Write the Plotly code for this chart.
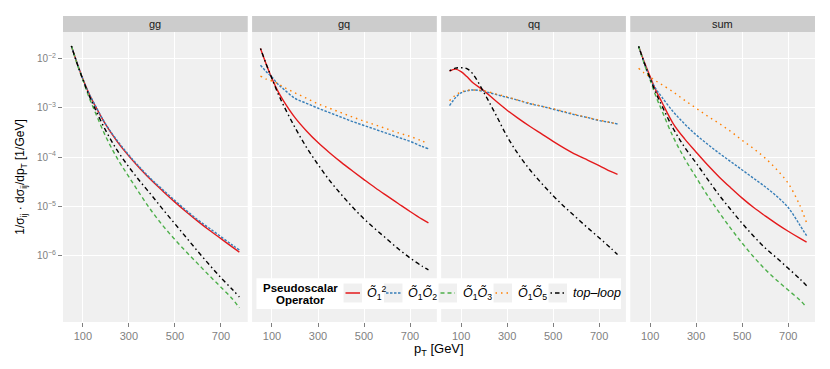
import plotly.graph_objects as go

# ---------------- data ----------------
pt = [50, 75, 100, 125, 150, 200, 250, 300, 350, 400, 450, 500, 550, 600, 650, 700, 750, 780]
channels = ["gg", "gq", "qq", "sum"]
x_tick_vals = [100, 300, 500, 700]
y_tick_vals = [1e-2, 1e-3, 1e-4, 1e-5, 1e-6]
y_tick_text = ["10<sup>\u22122</sup>", "10<sup>\u22123</sup>", "10<sup>\u22124</sup>",
               "10<sup>\u22125</sup>", "10<sup>\u22126</sup>"]

gg_O1sq = [1.78e-2, 7.94e-3, 3.80e-3, 2.00e-3, 1.17e-3, 4.47e-4, 2.04e-4, 1.05e-4, 5.75e-5, 3.31e-5, 2.00e-5, 1.23e-5, 7.76e-6, 5.01e-6, 3.31e-6, 2.24e-6, 1.51e-6, 1.20e-6]
gg_O1O2 = [1.78e-2, 7.94e-3, 3.80e-3, 2.00e-3, 1.20e-3, 4.57e-4, 2.14e-4, 1.10e-4, 6.03e-5, 3.47e-5, 2.14e-5, 1.32e-5, 8.32e-6, 5.37e-6, 3.63e-6, 2.45e-6, 1.66e-6, 1.32e-6]
gg_O1O3 = [1.78e-2, 7.59e-3, 3.63e-3, 1.70e-3, 8.91e-4, 2.57e-4, 9.33e-5, 3.98e-5, 1.74e-5, 7.94e-6, 3.98e-6, 2.14e-6, 1.20e-6, 6.92e-7, 3.98e-7, 2.34e-7, 1.35e-7, 8.91e-8]
gg_top = [1.78e-2, 7.76e-3, 3.72e-3, 1.86e-3, 1.02e-3, 3.39e-4, 1.35e-4, 6.31e-5, 3.16e-5, 1.66e-5, 8.51e-6, 4.47e-6, 2.34e-6, 1.23e-6, 6.61e-7, 3.63e-7, 2.09e-7, 1.48e-7]

gq_O1sq = [1.58e-2, 7.59e-3, 3.89e-3, 2.19e-3, 1.38e-3, 6.31e-4, 3.39e-4, 1.97e-4, 1.23e-4, 7.94e-5, 5.25e-5, 3.51e-5, 2.37e-5, 1.64e-5, 1.14e-5, 7.94e-6, 5.62e-6, 4.68e-6]
gq_O1O2 = [7.24e-3, 5.37e-3, 4.17e-3, 3.02e-3, 2.40e-3, 1.55e-3, 1.23e-3, 9.77e-4, 7.94e-4, 6.46e-4, 5.25e-4, 4.37e-4, 3.63e-4, 3.02e-4, 2.51e-4, 2.09e-4, 1.66e-4, 1.48e-4]
gq_O1O5 = [4.37e-3, 3.80e-3, 3.47e-3, 3.09e-3, 2.63e-3, 2.00e-3, 1.55e-3, 1.20e-3, 9.77e-4, 7.94e-4, 6.46e-4, 5.37e-4, 4.47e-4, 3.72e-4, 3.09e-4, 2.63e-4, 2.14e-4, 1.86e-4]
gq_top = [1.58e-2, 7.59e-3, 3.89e-3, 2.00e-3, 1.12e-3, 3.98e-4, 1.58e-4, 7.08e-5, 3.39e-5, 1.78e-5, 9.77e-6, 5.62e-6, 3.47e-6, 2.19e-6, 1.38e-6, 9.12e-7, 6.31e-7, 5.25e-7]

qq_O1sq = [5.50e-3, 6.03e-3, 5.37e-3, 4.27e-3, 3.24e-3, 2.19e-3, 1.38e-3, 8.91e-4, 6.03e-4, 4.17e-4, 2.95e-4, 2.09e-4, 1.51e-4, 1.12e-4, 8.71e-5, 6.76e-5, 5.13e-5, 4.47e-5]
qq_O1O2 = [1.10e-3, 1.58e-3, 2.00e-3, 2.19e-3, 2.29e-3, 2.14e-3, 1.86e-3, 1.62e-3, 1.41e-3, 1.20e-3, 1.07e-3, 9.33e-4, 8.13e-4, 7.08e-4, 6.31e-4, 5.50e-4, 5.01e-4, 4.68e-4]
qq_O1O5 = [1.38e-3, 1.78e-3, 2.09e-3, 2.24e-3, 2.29e-3, 2.19e-3, 1.91e-3, 1.66e-3, 1.41e-3, 1.23e-3, 1.07e-3, 9.55e-4, 8.32e-4, 7.24e-4, 6.31e-4, 5.62e-4, 5.01e-4, 4.68e-4]
qq_top = [5.62e-3, 6.31e-3, 6.46e-3, 6.17e-3, 4.90e-3, 2.00e-3, 7.41e-4, 2.63e-4, 1.12e-4, 5.50e-5, 2.95e-5, 1.66e-5, 9.77e-6, 6.03e-6, 3.72e-6, 2.34e-6, 1.45e-6, 1.07e-6]

sum_O1sq = [1.74e-2, 8.32e-3, 4.27e-3, 2.24e-3, 1.32e-3, 4.79e-4, 2.34e-4, 1.26e-4, 6.92e-5, 3.98e-5, 2.40e-5, 1.48e-5, 9.55e-6, 6.46e-6, 4.47e-6, 3.16e-6, 2.29e-6, 1.91e-6]
sum_O1O2 = [1.74e-2, 7.94e-3, 3.89e-3, 2.40e-3, 1.66e-3, 8.32e-4, 4.68e-4, 2.82e-4, 1.82e-4, 1.20e-4, 8.13e-5, 5.50e-5, 3.72e-5, 2.51e-5, 1.62e-5, 9.55e-6, 4.27e-6, 2.57e-6]
sum_O1O3 = [1.74e-2, 7.59e-3, 3.63e-3, 1.70e-3, 8.91e-4, 2.57e-4, 9.33e-5, 3.89e-5, 1.66e-5, 7.59e-6, 3.63e-6, 1.82e-6, 9.55e-7, 5.37e-7, 3.24e-7, 2.04e-7, 1.29e-7, 9.12e-8]
sum_O1O5 = [6.31e-3, 5.01e-3, 4.17e-3, 3.47e-3, 2.95e-3, 2.09e-3, 1.41e-3, 9.77e-4, 6.76e-4, 4.79e-4, 3.31e-4, 2.19e-4, 1.48e-4, 9.55e-5, 5.62e-5, 2.95e-5, 1.07e-5, 4.68e-6]
sum_top = [1.74e-2, 7.94e-3, 3.89e-3, 2.00e-3, 1.12e-3, 3.80e-4, 1.58e-4, 7.59e-5, 3.55e-5, 1.70e-5, 8.71e-6, 4.57e-6, 2.51e-6, 1.45e-6, 9.12e-7, 5.62e-7, 3.47e-7, 2.51e-7]

panel_series = {
    "gg": {"O1sq": gg_O1sq, "O1O2": gg_O1O2, "O1O3": gg_O1O3, "top": gg_top},
    "gq": {"O1sq": gq_O1sq, "O1O2": gq_O1O2, "O1O5": gq_O1O5, "top": gq_top},
    "qq": {"O1sq": qq_O1sq, "O1O2": qq_O1O2, "O1O5": qq_O1O5, "top": qq_top},
    "sum": {"O1sq": sum_O1sq, "O1O2": sum_O1O2, "O1O3": sum_O1O3, "O1O5": sum_O1O5, "top": sum_top},
}
series_order = ["O1sq", "O1O2", "O1O3", "O1O5", "top"]
series_labels = {
    "O1sq": "<i>\u00d5</i><sub>1</sub><sup>2</sup>",
    "O1O2": "<i>\u00d5</i><sub>1</sub><i>\u00d5</i><sub>2</sub>",
    "O1O3": "<i>\u00d5</i><sub>1</sub><i>\u00d5</i><sub>3</sub>",
    "O1O5": "<i>\u00d5</i><sub>1</sub><i>\u00d5</i><sub>5</sub>",
    "top": "<i>top\u2013loop</i>",
}
series_style = {
    "O1sq": dict(color="#E41A1C", dash="solid"),
    "O1O2": dict(color="#377EB8", dash="2.5px,1.5px"),
    "O1O3": dict(color="#4DAF4A", dash="4px,3px"),
    "O1O5": dict(color="#FF7F00", dash="1.5px,4px"),
    "top": dict(color="#000000", dash="1.5px,3px,4.5px,3px"),
}

# ---------------- layout geometry ----------------
W, H = 830, 369
ML, MR, MT, MB = 63, 15, 16, 47
PW = W - ML - MR
PH = H - MT - MB
panel_w = 184.75
gap = (PW - 4 * panel_w) / 3
strip_h = 16
y_dom_top = (PH - strip_h) / PH

def fx(px):
    return (px - ML) / PW

def fy(py):
    return (H - MB - py) / PH

PANEL_BG = "#F0F0F0"
STRIP_BG = "#CCCCCC"
FONT = "Liberation Sans"

fig = go.Figure()
shapes = []
annotations = []

for i, ch in enumerate(channels):
    n = "" if i == 0 else str(i + 1)
    x0 = i * (panel_w + gap) / PW
    x1 = (i * (panel_w + gap) + panel_w) / PW
    for key in series_order:
        if key not in panel_series[ch]:
            continue
        st = series_style[key]
        fig.add_trace(go.Scatter(
            x=pt, y=panel_series[ch][key], mode="lines",
            line=dict(color=st["color"], dash=st["dash"], width=1.4, shape="spline", smoothing=1.0),
            xaxis="x" + n, yaxis="y" + n, showlegend=False, hoverinfo="skip",
        ))
    fig.layout["xaxis" + n] = dict(
        domain=[x0, x1], anchor="y" + n, range=[13.5, 816.5],
        tickvals=x_tick_vals, ticks="outside", ticklen=4, tickwidth=1, tickcolor="#7F7F7F",
        tickfont=dict(size=11, color="#7F7F7F", family=FONT),
        showgrid=True, gridcolor="white", gridwidth=1.1, zeroline=False, showline=False,
    )
    fig.layout["yaxis" + n] = dict(
        domain=[0, y_dom_top], anchor="x" + n, type="log", range=[-7.336, -1.468],
        tickvals=y_tick_vals, ticktext=y_tick_text,
        ticks="outside" if i == 0 else "", ticklen=4, tickwidth=1, tickcolor="#7F7F7F",
        showticklabels=(i == 0),
        tickfont=dict(size=10, color="#7F7F7F", family=FONT),
        showgrid=True, gridcolor="white", gridwidth=1.1, zeroline=False, showline=False,
    )
    if i > 0:
        fig.layout["yaxis" + n]["matches"] = "y"
    shapes.append(dict(type="rect", xref="paper", yref="paper", x0=x0, x1=x1, y0=0, y1=y_dom_top,
                       fillcolor=PANEL_BG, line=dict(width=0), layer="below"))
    shapes.append(dict(type="rect", xref="paper", yref="paper", x0=x0, x1=x1, y0=y_dom_top, y1=1,
                       fillcolor=STRIP_BG, line=dict(width=0), layer="below"))
    annotations.append(dict(text=ch, xref="paper", yref="paper", x=(x0 + x1) / 2,
                            y=(y_dom_top + 1) / 2, xanchor="center", yanchor="middle",
                            showarrow=False, font=dict(size=11, color="#1A1A1A", family=FONT)))

fig.layout.yaxis.title = dict(
    text="1/\u03c3<sub>ij</sub> \u00b7 d\u03c3<sub>ij</sub>/dp<sub>T</sub> [1/GeV]",
    font=dict(size=12, color="black", family=FONT), standoff=9)

annotations.append(dict(text="p<sub>T</sub> [GeV]", xref="paper", yref="paper",
                        x=fx(439), y=fy(349), xanchor="center", yanchor="middle",
                        showarrow=False, font=dict(size=13, color="black", family=FONT)))

# ---------------- legend (inside, bottom) ----------------
shapes.append(dict(type="rect", xref="paper", yref="paper", x0=fx(256.5), x1=fx(621),
                   y0=fy(309), y1=fy(278.3), fillcolor="white", line=dict(width=0)))
annotations.append(dict(text="<b>Pseudoscalar</b>", xref="paper", yref="paper", x=fx(300),
                        y=fy(287.5), xanchor="center", yanchor="middle", showarrow=False,
                        font=dict(size=11.5, color="black", family=FONT)))
annotations.append(dict(text="<b>Operator</b>", xref="paper", yref="paper", x=fx(300),
                        y=fy(299.5), xanchor="center", yanchor="middle", showarrow=False,
                        font=dict(size=11.5, color="black", family=FONT)))
key_left = [343.5, 384.0, 438.5, 493.5, 548.5]
text_left = [364.5, 405.5, 461.0, 516.0, 571.0]
for k, key in enumerate(series_order):
    st = series_style[key]
    bx0, bx1 = key_left[k], key_left[k] + 18.5
    shapes.append(dict(type="rect", xref="paper", yref="paper", x0=fx(bx0), x1=fx(bx1),
                       y0=fy(302.5), y1=fy(283.5), fillcolor=PANEL_BG, line=dict(width=0)))
    shapes.append(dict(type="line", xref="paper", yref="paper", x0=fx(bx0 + 2), x1=fx(bx1 - 2),
                       y0=fy(293), y1=fy(293), line=dict(color=st["color"], dash=st["dash"], width=1.5)))
    annotations.append(dict(text=series_labels[key], xref="paper", yref="paper", x=fx(text_left[k]),
                            y=fy(293), xanchor="left", yanchor="middle", showarrow=False,
                            font=dict(size=12.5, color="black", family=FONT)))

fig.update_layout(
    width=W, height=H, margin=dict(l=ML, r=MR, t=MT, b=MB, pad=0),
    paper_bgcolor="white", plot_bgcolor="rgba(0,0,0,0)",
    shapes=shapes, annotations=annotations, showlegend=False,
    font=dict(family=FONT),
)

fig.write_html("out.html", config={"displayModeBar": False},
               post_script="document.body.style.margin='0px';")
